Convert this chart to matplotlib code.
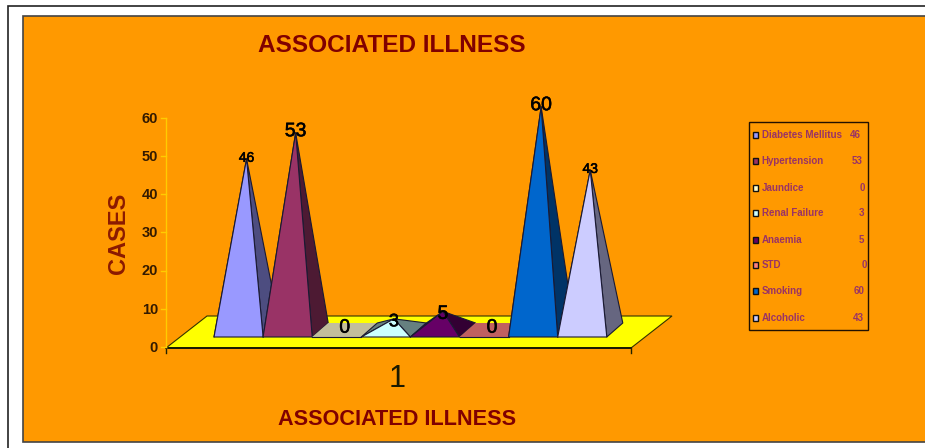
# -*- coding: utf-8 -*-
"""
Associated illness cases drawn as a 3D-look pyramid chart on an orange panel.
"""
import matplotlib
matplotlib.use('Agg')
import matplotlib.pyplot as plt
import matplotlib.patheffects as pe
from matplotlib.patches import Polygon, Rectangle

illnesses = ['Diabetes Mellitus', 'Hypertension', 'Jaundice', 'Renal Failure',
             'Anaemia', 'STD', 'Smoking', 'Alcoholic']
cases = [46, 53, 0, 3, 5, 0, 60, 43]
front_colors = ['#9999FF', '#993366', '#FFFFCC', '#CCFFFF',
                '#660066', '#FF8080', '#0066CC', '#CCCCFF']
side_colors = ['#4D4D80', '#4D1A33', '#C2BE9C', '#668080',
               '#330033', '#C06060', '#003366', '#666680']
label_sizes = [10, 14, 14, 13, 14, 14, 14, 10]
y_ticks = [0, 10, 20, 30, 40, 50, 60]

W, H = 925, 448
BAR_PX = 49.1      # width of one pyramid base
CASE_PX = 3.72     # height of one case
BASE_LEFT = 214    # left corner of the first base
BASE_ROW = 337     # pixel row of the front of the bases
DEPTH_X = 16 / BAR_PX
DEPTH_Y = 14 / CASE_PX

fig = plt.figure(figsize=(W / 100, H / 100), dpi=100, facecolor='white')
plt.rcParams['font.family'] = ['Liberation Sans', 'DejaVu Sans']

# pixel layer for the panel, floor, axis and legend
bg = fig.add_axes([0, 0, 1, 1])
bg.set_xlim(0, W)
bg.set_ylim(H, 0)
bg.axis('off')

# both frames run off the right side, the outer one off the bottom too
bg.add_patch(Rectangle((8, 6), W, H, fc='white', ec='#222222', lw=1.2))
bg.add_patch(Rectangle((23, 16), W, 426.5, fc='#FF9900', ec='#444444', lw=1.2))

bg.add_patch(Polygon([(166, 348), (631, 348), (672, 316), (207, 316)],
                     closed=True, fc='#FFFF00', ec='#333300', lw=0.8))
bg.plot([166, 631], [348.5, 348.5], color='#1A1A00', lw=1.4)
bg.plot([166, 166], [118, 348], color='#FFCC00', lw=1)
bg.plot([166, 166], [348, 353], color='#222200', lw=1)
bg.plot([631, 631], [348, 353], color='#222200', lw=1)

# value axis
for t in y_ticks:
    row = 347 - t * 3.82
    bg.plot([161, 166], [row, row], color='#FFCC00', lw=1)
    bg.text(158, row + 0.8, str(t), ha='right', va='center', fontsize=10.5,
            fontweight='bold', color='#331A00')

bg.text(392, 45, 'ASSOCIATED ILLNESS', ha='center', va='center', fontsize=17.6,
        fontweight='bold', color='#800000')
bg.text(397.5, 419.5, 'ASSOCIATED ILLNESS', ha='center', va='center', fontsize=15.6,
        fontweight='bold', color='#800000')
bg.text(118, 233, 'CASES', ha='center', va='center', rotation=90, fontsize=17,
        fontweight='bold', color='#8B1A00')
bg.text(397, 379, '1', ha='center', va='center', fontsize=22, color='#1A1A00')

# legend
bg.add_patch(Rectangle((749, 122.5), 118.5, 208, fc='none', ec='#221100', lw=1))
legend_rows = [135, 161, 188, 213, 240, 265, 291, 318]
value_right = [861, 863, 865, 864, 864, 867, 864, 864]
for name, v, col, row, right in zip(illnesses, cases, front_colors,
                                    legend_rows, value_right):
    bg.add_patch(Rectangle((752.5, row - 2.5), 5.5, 5.5, fc=col, ec='#111111', lw=1))
    bg.text(761.5, row, name, ha='left', va='center', fontsize=7,
            fontweight='bold', color='#993366')
    bg.text(right, row, str(v), ha='right', va='center', fontsize=7,
            fontweight='bold', color='#993366')

# data layer: x in pyramid widths, y in cases, with the base front at y=0
ax = fig.add_axes([0, 0, 1, 1])
ax.set_xlim(-BASE_LEFT / BAR_PX, (W - BASE_LEFT) / BAR_PX)
ax.set_ylim(-(H - BASE_ROW) / CASE_PX, BASE_ROW / CASE_PX)
ax.axis('off')
ax.patch.set_alpha(0)

edge = dict(ec='#1A1A33', lw=0.8, joinstyle='round')
heavy = [pe.withStroke(linewidth=0.4, foreground='#000000')]
for i, v in enumerate(cases):
    left, right = i, i + 1
    # the apex stands over the middle of the base, which sits half the depth back
    apex_x = i + 0.5 + DEPTH_X / 2
    apex_y = DEPTH_Y / 2 + v
    fl = (left, 0)
    fr = (right, 0)
    br = (right + DEPTH_X, DEPTH_Y)
    bl = (left + DEPTH_X, DEPTH_Y)
    if v == 0:
        # an empty series only leaves its square on the floor
        ax.add_patch(Polygon([fl, fr, br, bl], closed=True, fc=side_colors[i], ec='none'))
        ax.plot([left, right], [0, 0], color='#1A1A33', lw=0.8)
        ax.text(apex_x, apex_y + 0.5, str(v), ha='center', va='center',
                fontsize=label_sizes[i], color='#000000', path_effects=heavy)
        continue
    apex = (apex_x, apex_y)
    # the back left face only shows on the very low pyramids
    ax.add_patch(Polygon([fl, bl, apex], closed=True, fc=side_colors[i], **edge))
    ax.add_patch(Polygon([fr, br, apex], closed=True, fc=side_colors[i], **edge))
    ax.add_patch(Polygon([fl, fr, apex], closed=True, fc=front_colors[i], **edge))
    lift = 0.3 if v > 10 else -0.8
    ax.text(apex_x, apex_y + lift, str(v), ha='center', va='center',
            fontsize=label_sizes[i], color='#000000', path_effects=heavy)

fig.savefig('out.png', dpi=100, facecolor='white')
